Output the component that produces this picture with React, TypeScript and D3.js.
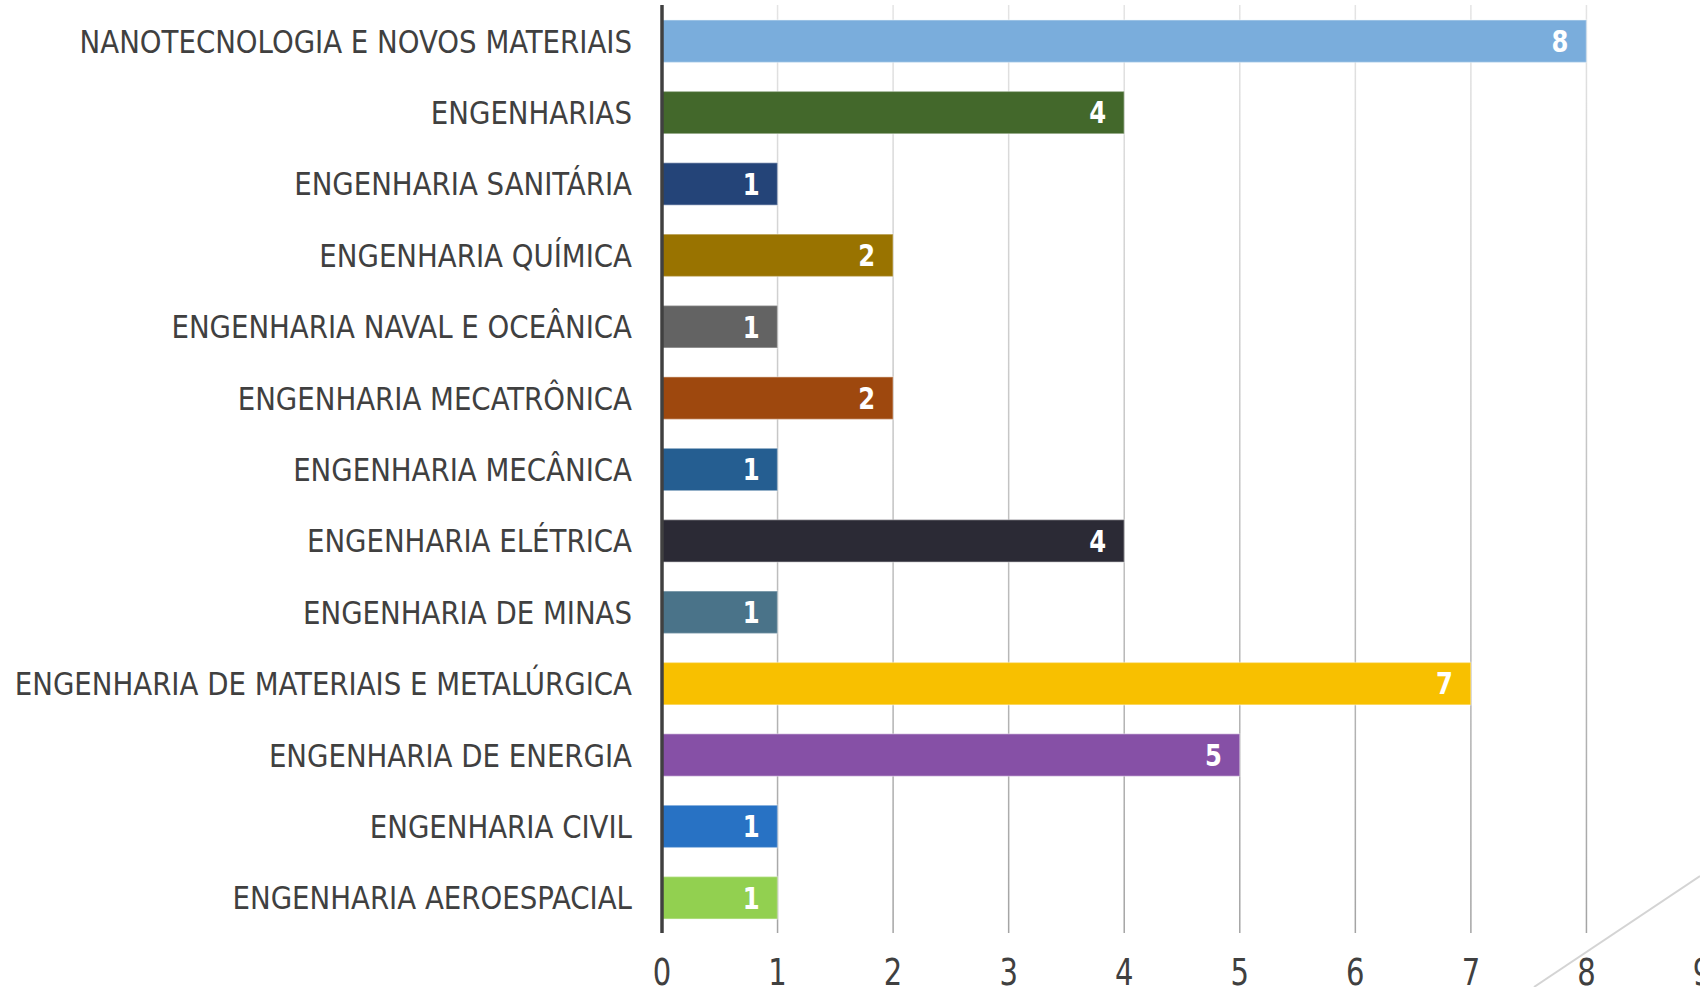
import * as d3 from "d3";

// áreas, de cima para baixo
const categories = [
  "NANOTECNOLOGIA E NOVOS MATERIAIS",
  "ENGENHARIAS",
  "ENGENHARIA SANITÁRIA",
  "ENGENHARIA QUÍMICA",
  "ENGENHARIA NAVAL E OCEÂNICA",
  "ENGENHARIA MECATRÔNICA",
  "ENGENHARIA MECÂNICA",
  "ENGENHARIA ELÉTRICA",
  "ENGENHARIA DE MINAS",
  "ENGENHARIA DE MATERIAIS E METALÚRGICA",
  "ENGENHARIA DE ENERGIA",
  "ENGENHARIA CIVIL",
  "ENGENHARIA AEROESPACIAL",
];
const values = [8, 4, 1, 2, 1, 2, 1, 4, 1, 7, 5, 1, 1];
const barColors = [
  "#7aaddc", "#43682b", "#244478", "#997300", "#636363", "#9e480e", "#255e91",
  "#2b2a35", "#4a7389", "#f8c000", "#8650a6", "#2872c4", "#92d050",
];
const ticks = [0, 1, 2, 3, 4, 5, 6, 7, 8, 9];

const W = 1700;
const H = 987;

const App = () => {
  const x = d3.scaleLinear().domain([0, 9]).range([662, 1702]);
  const y = d3
    .scaleBand<string>()
    .domain(categories)
    .range([5.5, 933.5])
    .paddingInner(0.405)
    .paddingOuter(0.2025);
  const font = "'DejaVu Sans Condensed', 'DejaVu Sans', sans-serif";
  const mid = (c: string) => (y(c) as number) + y.bandwidth() / 2;

  return (
    <svg width={W} height={H} style={{ position: "fixed", left: 0, top: 0, background: "#fff" }}>
      <defs>
        <linearGradient id="gridGrad" gradientUnits="userSpaceOnUse" x1="0" y1="5" x2="0" y2="933">
          <stop offset="0" stopColor="#e4e4e4" />
          <stop offset="1" stopColor="#a4a4a4" />
        </linearGradient>
      </defs>

      {/* grade vertical */}
      {ticks.slice(1).map((t) => (
        <line key={t} x1={x(t)} x2={x(t)} y1={5} y2={933} stroke="url(#gridGrad)" strokeWidth={1.5} />
      ))}

      {/* barras */}
      {categories.map((c, i) => (
        <g key={c}>
          <rect
            x={x(0)}
            y={y(c)}
            width={x(values[i]) - x(0)}
            height={y.bandwidth()}
            fill={barColors[i]}
            stroke="#ffffff"
            strokeOpacity={0.35}
            strokeWidth={1.5}
          />
          <text
            transform={`translate(${x(values[i]) - 18},${mid(c)}) scale(0.9,1)`}
            dy="0.36em"
            textAnchor="end"
            fill="#fff"
            fontFamily={font}
            fontWeight="bold"
            fontSize={30}
          >
            {values[i]}
          </text>
          <text
            transform={`translate(632,${mid(c)}) scale(0.96,1)`}
            dy="0.36em"
            textAnchor="end"
            fill="#404040"
            fontFamily={font}
            fontSize={32}
          >
            {c}
          </text>
        </g>
      ))}

      {/* eixo */}
      <line x1={x(0)} x2={x(0)} y1={5} y2={933} stroke="#404040" strokeWidth={3.5} />

      {ticks.map((t) => (
        <text
          key={t}
          transform={`translate(${x(t)},985) scale(0.85,1)`}
          textAnchor="middle"
          fill="#404040"
          fontFamily={font}
          fontSize={38}
        >
          {t}
        </text>
      ))}

      {/* linha decorativa do slide */}
      <line x1={1534} y1={987} x2={1700} y2={876} stroke="#d4d4d4" strokeWidth={2} />
    </svg>
  );
};

export default App;
